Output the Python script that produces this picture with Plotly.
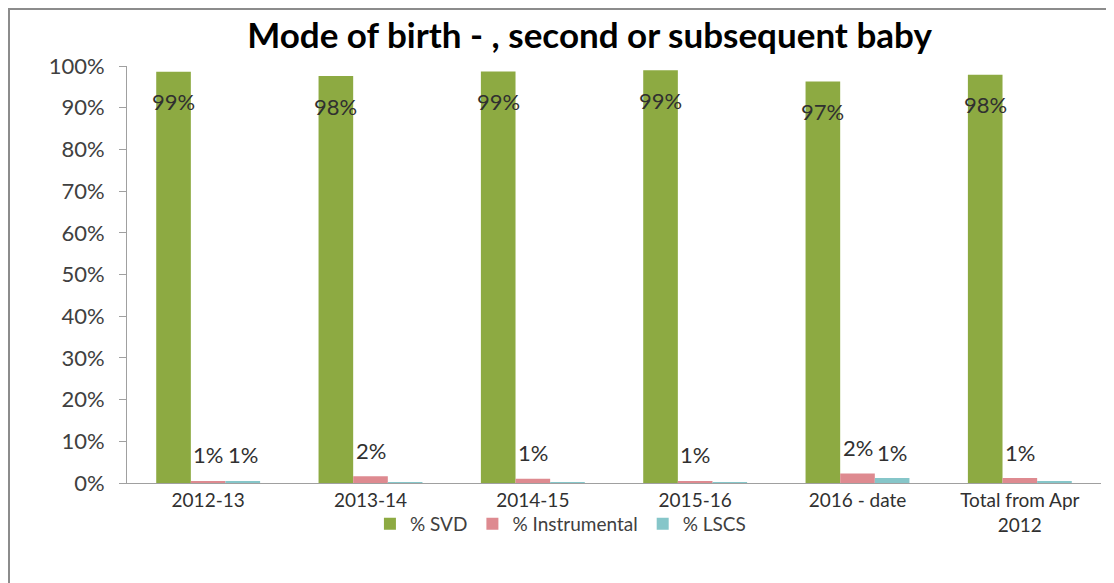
import plotly.graph_objects as go

categories = ["2012-13", "2013-14", "2014-15", "2015-16", "2016 - date", "Total from Apr<br>2012"]
svd = [98.6, 97.6, 98.7, 99.0, 96.3, 97.9]
instrumental = [0.5, 1.6, 1.0, 0.5, 2.3, 1.2]
lscs = [0.5, 0.1, 0.1, 0.2, 1.2, 0.5]
svd_labels = ["99%", "98%", "99%", "99%", "97%", "98%"]
instr_labels = ["1%", "2%", "1%", "1%", "2%", "1%"]
lscs_labels = ["1%", "", "", "", "1%", ""]
y_ticks = [0, 10, 20, 30, 40, 50, 60, 70, 80, 90, 100]

FONT = "Lato, Open Sans, sans-serif"
GREEN = "#8DAA42"
PINK = "#DE8A90"
TEAL = "#86C6C9"

fig = go.Figure()
fig.add_trace(go.Bar(name="% SVD", x=categories, y=svd, marker=dict(color=GREEN, line=dict(width=0))))
fig.add_trace(go.Bar(name="% Instrumental", x=categories, y=instrumental, marker=dict(color=PINK, line=dict(width=0))))
fig.add_trace(go.Bar(name="% LSCS", x=categories, y=lscs, marker=dict(color=TEAL, line=dict(width=0))))

L, R, T, B = 119, 21, 58, 108
W, H = 1114, 583
plot_w = W - L - R
plot_h = H - T - B
bargap = 0.36
bar_px = plot_w / len(categories) * (1 - bargap) / 3

annotations = []
for series, labels, off, shift in [(svd, svd_labels, -1, -30), (instrumental, instr_labels, 0, 26), (lscs, lscs_labels, 1, 26)]:
    for c, v, t in zip(categories, series, labels):
        if t:
            annotations.append(dict(x=c, y=v, xref="x", yref="y", text=t, showarrow=False,
                                    xshift=off * bar_px, yshift=shift, yanchor="middle",
                                    font=dict(family=FONT, size=22, color="#303030")))

fig.update_layout(
    width=W, height=H,
    paper_bgcolor="white", plot_bgcolor="white",
    margin=dict(l=L, r=R, t=T, b=B),
    barmode="group", bargap=bargap, bargroupgap=0,
    title=dict(text="<b>Mode of birth - , second or subsequent baby</b>", x=0.522, xanchor="center",
               y=0.953, yanchor="middle", font=dict(family=FONT, size=35, color="#000000")),
    font=dict(family=FONT, size=19, color="#404040"),
    legend=dict(orientation="h", x=0.445, xanchor="center", y=-0.098, yanchor="middle",
                bgcolor="rgba(0,0,0,0)",
                font=dict(family=FONT, size=19, color="#404040"), traceorder="normal"),
    annotations=annotations,
    shapes=[dict(type="rect", xref="paper", yref="paper",
                 x0=-(L - 1) / plot_w, x1=1 + (R + 20) / plot_w,
                 y0=-(B + 20) / plot_h, y1=1 + (T - 1) / plot_h,
                 line=dict(color="#8c8c8c", width=2), fillcolor="rgba(0,0,0,0)", layer="below")],
)
fig.update_xaxes(showline=True, linecolor="#a0a0a0", linewidth=1, ticks="", showgrid=False,
                 tickfont=dict(family=FONT, size=19, color="#303030"))
fig.update_yaxes(range=[0, 100], tickvals=y_ticks, ticktext=[f"{v}%" for v in y_ticks],
                 showline=True, linecolor="#a0a0a0", linewidth=1, ticks="outside", ticklen=7,
                 tickcolor="#a0a0a0", showgrid=False, zeroline=False, ticklabelstandoff=10,
                 tickfont=dict(family=FONT, size=22, color="#404040"))

fig.write_html("out.html")
